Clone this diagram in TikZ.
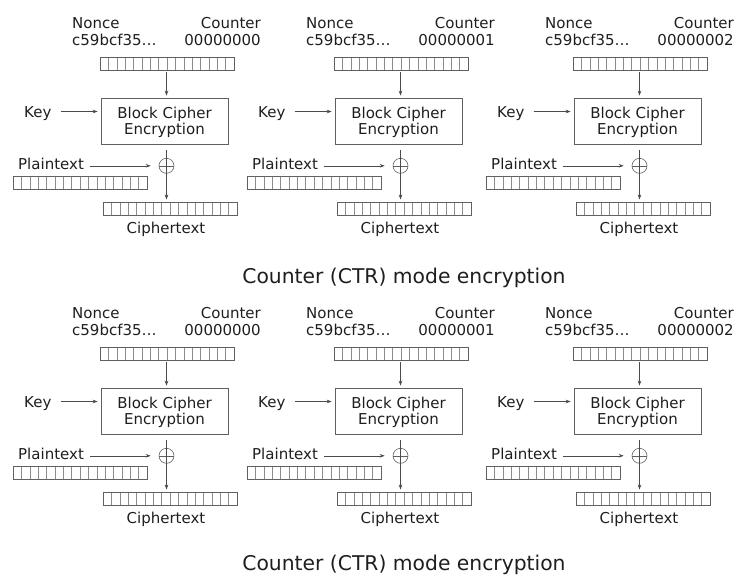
\documentclass[tikz,border=0pt]{standalone}
\usepackage{fontspec}
\setmainfont{DejaVu Sans}
\usetikzlibrary{arrows.meta,calc}
\definecolor{ink}{HTML}{1E1E1E}
\definecolor{edge}{HTML}{606060}
\definecolor{cell}{HTML}{8C8C8C}
\tikzset{
  lbl/.style={inner sep=0pt, text height=11pt, text depth=0pt, text=ink, font=\fontsize{15}{16}\selectfont},
  cipherbox/.style={draw=edge, line width=0.7pt, minimum width=127pt, minimum height=46pt, inner sep=0pt, align=center, text=ink, text depth=0pt, font=\fontsize{15}{16}\selectfont},
  reg/.style={draw=edge, line width=0.6pt, minimum width=134pt, minimum height=13pt, inner sep=0pt,
    path picture={\foreach \k in {1,...,15}{\draw[cell,line width=0.5pt] ($(path picture bounding box.south west)!\k/16!(path picture bounding box.south east)$) -- ($(path picture bounding box.north west)!\k/16!(path picture bounding box.north east)$);}}},
  xorc/.style={circle, draw=edge, line width=0.6pt, minimum size=15pt, inner sep=0pt,
    path picture={\draw[edge,line width=0.6pt] (path picture bounding box.west) -- (path picture bounding box.east);}},
  arr/.style={draw=ink!80, line width=0.6pt, -{Stealth[length=5pt,width=3.6pt]}},
  ttl/.style={inner sep=0pt, text=ink, font=\fontsize{20.3}{24}\selectfont}
}
\begin{document}
\begin{tikzpicture}[x=1pt,y=-1pt]
\useasboundingbox (0,0) rectangle (738,576);
\foreach \r/\dy/\ty in {0/0/283.3,1/290/570.8} {
  \node[ttl, anchor=base] (title\r) at (404,\ty) {Counter (CTR) mode encryption};
  \foreach \c/\dx/\cnt in {0/0/00000000,1/234/00000001,2/473/00000002} {
    \begin{scope}[shift={(\dx,\dy)}]
      \node[lbl, anchor=base west] (nonce\r\c) at (72,28.5) {Nonce};
      \node[lbl, anchor=base west] (nv\r\c) at (72,45) {c59bcf35…};
      \node[lbl, anchor=base east] (ctr\r\c) at (261,28.5) {Counter};
      \node[lbl, anchor=base east] (cv\r\c) at (261,45) {\cnt};
      \node[reg] (top\r\c) at (167,63.5) {};
      \node[cipherbox] (box\r\c) at (164.5,121) {Block Cipher\\Encryption};
      \node[lbl, anchor=base west] (key\r\c) at (24,117) {Key};
      \node[lbl, anchor=base west] (pt\r\c) at (18,169) {Plaintext};
      \node[xorc] (x\r\c) at (166.5,165.8) {};
      \node[reg] (pb\r\c) at (80,183) {};
      \node[reg] (cb\r\c) at (170,208.3) {};
      \node[lbl, anchor=base] (ctl\r\c) at (166,233.3) {Ciphertext};
      \draw[arr] ([yshift=-2pt]top\r\c.south -| x\r\c) -- ([yshift=2pt]box\r\c.north -| x\r\c);
      \draw[arr] ([xshift=9pt]key\r\c.east) -- ([xshift=-3pt]box\r\c.west |- key\r\c.east);
      \draw[arr] ([xshift=6pt]pt\r\c.east |- x\r\c.center) -- ([xshift=-8pt]x\r\c.west);
      \draw[arr] ([yshift=-6pt]box\r\c.south -| x\r\c) -- ([yshift=2pt]cb\r\c.north -| x\r\c);
    \end{scope}
  }
}
\end{tikzpicture}
\end{document}
